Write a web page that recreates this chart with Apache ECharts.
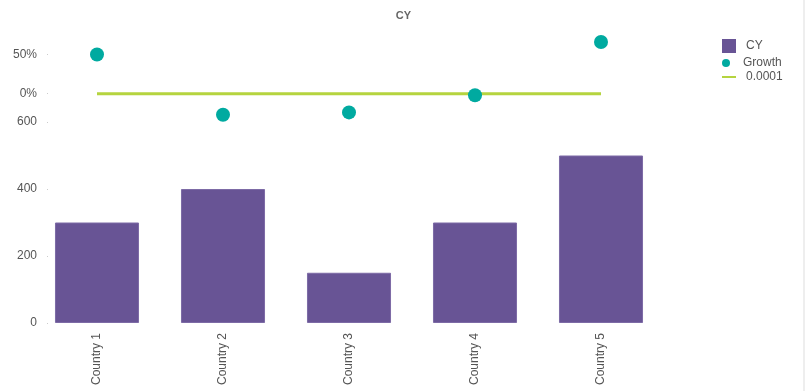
<!DOCTYPE html>
<html>
<head>
<meta charset="utf-8">
<script src="https://cdn.jsdelivr.net/npm/echarts@6/dist/echarts.min.js"></script>
<style>
html,body{margin:0;padding:0;background:#fff;}
#c{width:807px;height:391px;}
</style>
</head>
<body>
<div id="c"></div>
<script>
const categories = ['Country 1', 'Country 2', 'Country 3', 'Country 4', 'Country 5'];
const cyValues = [300, 400, 150, 300, 500];
const growthValues = [0.50, -0.27, -0.24, -0.02, 0.66];
const refValues = [0.0001, 0.0001, 0.0001, 0.0001, 0.0001];
const growthTicks = [0, 0.5];

const chart = echarts.init(document.getElementById('c'), null, {renderer: 'canvas'});
const font = 'Arial, "Liberation Sans", sans-serif';
const labelColor = '#555';
const legendText = {fontSize: 12, color: labelColor, fontFamily: font, padding: [0,0,0,5]};
const option = {
  animation: false,
  title: {
    text: 'CY', left: 'center', top: 5,
    textStyle: {fontSize: 11, fontWeight: 'bold', color: '#666', fontFamily: font}
  },
  legend: [
    {data: [{name: 'CY', icon: 'rect', itemStyle: {borderWidth: 0}}], orient: 'vertical', left: 717, top: 34,
     itemWidth: 14, itemHeight: 14, textStyle: legendText},
    {data: [{name: 'Growth', icon: 'circle'}], orient: 'vertical', left: 717, top: 52,
     itemWidth: 14, itemHeight: 8, textStyle: legendText},
    {data: [{name: '0.0001', icon: 'rect', itemStyle: {color: '#b5d43f'}}], orient: 'vertical', left: 717, top: 66,
     itemWidth: 14, itemHeight: 2, textStyle: legendText}
  ],
  grid: [
    {left: 34, width: 630, top: 35, height: 86},
    {left: 34, width: 630, top: 122, height: 201}
  ],
  xAxis: [
    {gridIndex: 0, type: 'category', data: categories, show: false},
    {gridIndex: 1, type: 'category', data: categories,
     axisLine: {show: false}, axisTick: {show: false},
     axisLabel: {rotate: 90, margin: 10, fontSize: 12, color: labelColor, fontFamily: font}}
  ],
  yAxis: [
    {gridIndex: 0, type: 'value', min: -0.35, max: 0.75, offset: -14,
     splitLine: {show: false}, axisLine: {show: false},
     axisTick: {show: true, length: 1, lineStyle: {color: '#ccc'}, customValues: growthTicks},
     axisLabel: {customValues: growthTicks, margin: 11, fontSize: 12, color: labelColor, fontFamily: font,
                 formatter: v => Math.round(v * 100) + '%'}},
    {gridIndex: 1, type: 'value', min: 0, max: 600, interval: 200, offset: -14,
     splitLine: {show: false}, axisLine: {show: false},
     axisTick: {show: true, length: 1, lineStyle: {color: '#ccc'}},
     axisLabel: {margin: 11, fontSize: 12, color: labelColor, fontFamily: font}}
  ],
  series: [
    {name: 'CY', type: 'bar', xAxisIndex: 1, yAxisIndex: 1, data: cyValues,
     barCategoryGap: '33.3%',
     itemStyle: {color: '#685495', borderColor: '#7d6ba6', borderWidth: 1}},
    {name: '0.0001', type: 'line', xAxisIndex: 0, yAxisIndex: 0, data: refValues,
     symbol: 'none', showSymbol: false, lineStyle: {color: '#b5d43f', width: 3}, itemStyle: {color: '#b5d43f'}, z: 2},
    {name: 'Growth', type: 'scatter', xAxisIndex: 0, yAxisIndex: 0, data: growthValues,
     symbolSize: 14, clip: false, itemStyle: {color: '#00aaa0', opacity: 1}, z: 3}
  ],
  graphic: [
    {type: 'line', shape: {x1: 804, y1: 0, x2: 804, y2: 391}, style: {stroke: '#ddd', lineWidth: 1}}
  ]
};
chart.setOption(option);
</script>
</body>
</html>
